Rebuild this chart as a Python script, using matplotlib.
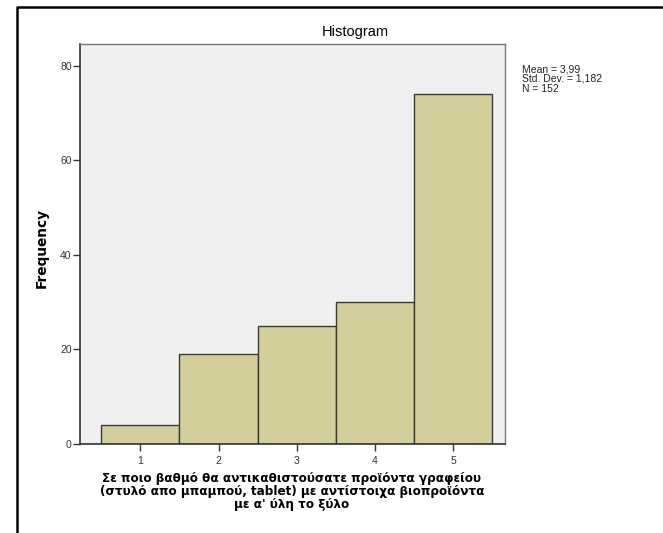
import matplotlib
matplotlib.use("Agg")
import matplotlib.pyplot as plt
from matplotlib.lines import Line2D

plt.rcParams["font.family"] = ["Liberation Sans", "DejaVu Sans"]

# data
categories = [1, 2, 3, 4, 5]
counts = [4, 19, 25, 30, 74]
y_ticks = [0, 20, 40, 60, 80]
stats_text = "Mean = 3,99\nStd. Dev. = 1,182\nN = 152"
x_title = ("Σε ποιο βαθμό θα αντικαθιστούσατε προϊόντα γραφείου\n"
           "(στυλό απο μπαμπού, tablet) με αντίστοιχα βιοπροϊόντα\n"
           "με α' ύλη το ξύλο")

W, H = 663, 533
fig = plt.figure(figsize=(W / 100, H / 100), dpi=100)
fig.patch.set_facecolor("white")

# plot area in pixels: left 80, right 505, top 44, bottom 444
ax = fig.add_axes([80 / W, 1 - 444 / H, (505 - 80) / W, (444 - 44) / H])
ax.set_facecolor("#f0f0f0")

ax.bar(categories, counts, width=1.0, color="#d3ce9a",
       edgecolor="#3a3a3a", linewidth=1.0, zorder=2)

ax.set_xlim(0.23, 5.66)
ax.set_ylim(0, 84.6)
ax.set_xticks(categories)
ax.set_yticks(y_ticks)
ax.tick_params(axis="both", direction="out", length=5, width=1,
               color="#333333", labelsize=7.5, labelcolor="#333333")
ax.tick_params(axis="x", pad=4)
ax.tick_params(axis="y", pad=1)

for side in ["top", "right"]:
    ax.spines[side].set_color("#777777")
    ax.spines[side].set_linewidth(1)
for side in ["left", "bottom"]:
    ax.spines[side].set_color("#333333")
    ax.spines[side].set_linewidth(1.2)

fig.text(42 / W, 1 - 248 / H, "Frequency", fontsize=9.8, fontweight="bold",
         family="DejaVu Sans", rotation=90, ha="center", va="center")

fig.text(355 / W, 1 - 32 / H, "Histogram", fontsize=10.5,
         ha="center", va="center", color="black")

fig.text(522 / W, 1 - 64 / H, stats_text, fontsize=7.5, ha="left", va="top",
         linespacing=0.98, color="#222222")

fig.text(292 / W, 1 - 472 / H, x_title, fontsize=8.65, fontweight="bold",
         family="DejaVu Sans", ha="center", va="top", linespacing=1.0)

# outer frame (left and top edges visible)
fig.add_artist(Line2D([17 / W, 17 / W, 1.0], [0.0, 1 - 7 / H, 1 - 7 / H],
                      transform=fig.transFigure, color="black", linewidth=1.8))

fig.savefig("out.png", dpi=100)
